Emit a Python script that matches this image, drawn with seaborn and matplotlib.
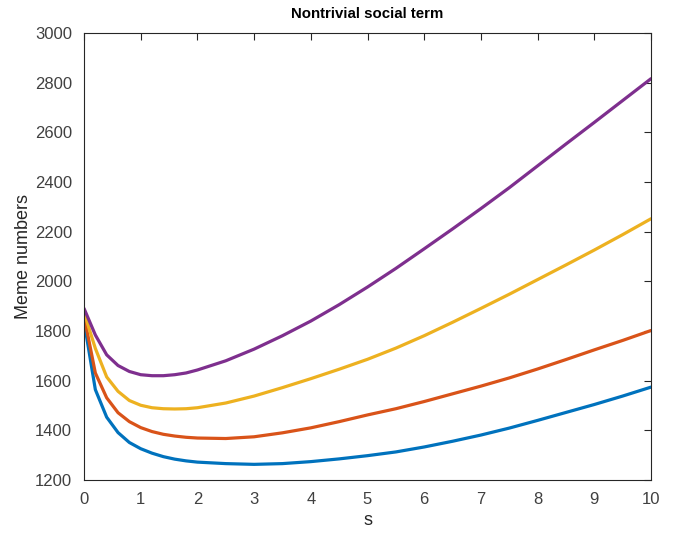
import numpy as np
import pandas as pd
import matplotlib
matplotlib.use("Agg")
import matplotlib.pyplot as plt
import seaborn as sns

s_vals = [0, 0.2, 0.4, 0.6, 0.8, 1.0, 1.2, 1.4, 1.6, 1.8, 2.0, 2.5, 3, 3.5, 4, 4.5, 5,
          5.5, 6, 6.5, 7, 7.5, 8, 8.5, 9, 9.5, 10]
blue = [1840, 1564, 1453, 1391, 1351, 1326, 1308, 1294, 1284, 1277, 1272, 1266, 1263, 1266,
        1274, 1285, 1298, 1313, 1333, 1356, 1381, 1409, 1440, 1472, 1504, 1538, 1574]
orange = [1861, 1631, 1531, 1471, 1435, 1411, 1395, 1384, 1377, 1372, 1369, 1367, 1374, 1390,
          1410, 1435, 1462, 1487, 1516, 1547, 1578, 1611, 1647, 1685, 1724, 1762, 1802]
yellow = [1875, 1730, 1615, 1557, 1520, 1501, 1491, 1487, 1486, 1487, 1491, 1510, 1538, 1572,
          1608, 1646, 1686, 1731, 1781, 1835, 1891, 1948, 2007, 2066, 2126, 2188, 2252]
purple = [1891, 1784, 1704, 1661, 1637, 1624, 1620, 1620, 1624, 1631, 1643, 1680, 1727, 1781,
          1840, 1906, 1977, 2052, 2131, 2211, 2293, 2377, 2465, 2553, 2640, 2728, 2816]

series_names = ["c1", "c2", "c3", "c4"]
series_vals = [blue, orange, yellow, purple]
colors = ["#0072BD", "#D95319", "#EDB120", "#7E2F8E"]

rows = []
for name, vals in zip(series_names, series_vals):
    for s, v in zip(s_vals, vals):
        rows.append({"s": s, "value": v, "series": name})
df = pd.DataFrame(rows)

sns.set_style("white")
plt.rcParams['font.family'] = ['Liberation Sans', 'DejaVu Sans']

fig = plt.figure(figsize=(6.74, 5.33), dpi=100)
ax = fig.add_axes([84/674, 1 - 480/533, (651-84)/674, (480-33)/533])
sns.lineplot(data=df, x="s", y="value", hue="series", palette=colors,
             linewidth=2.3, ax=ax, legend=False, sort=False)

ax.set_xlim(0, 10)
ax.set_ylim(1200, 3000)
ax.set_xticks(range(0, 11))
ax.set_yticks(range(1200, 3001, 200))
ax.set_xlabel("s", fontsize=13, color="#262626", labelpad=4)
ax.set_ylabel("Meme numbers", fontsize=13, color="#262626", labelpad=2)
ax.set_title("Nontrivial social term", fontsize=10.8, fontweight="bold", color="#000000", pad=11)
ax.tick_params(direction="in", length=5, width=0.8, colors="#262626", pad=8.5,
               labelsize=12, top=True, right=True, labelcolor="#404040")
for sp in ax.spines.values():
    sp.set_visible(True)
    sp.set_color("#262626")
    sp.set_linewidth(0.8)

fig.savefig("out.png", dpi=100)
